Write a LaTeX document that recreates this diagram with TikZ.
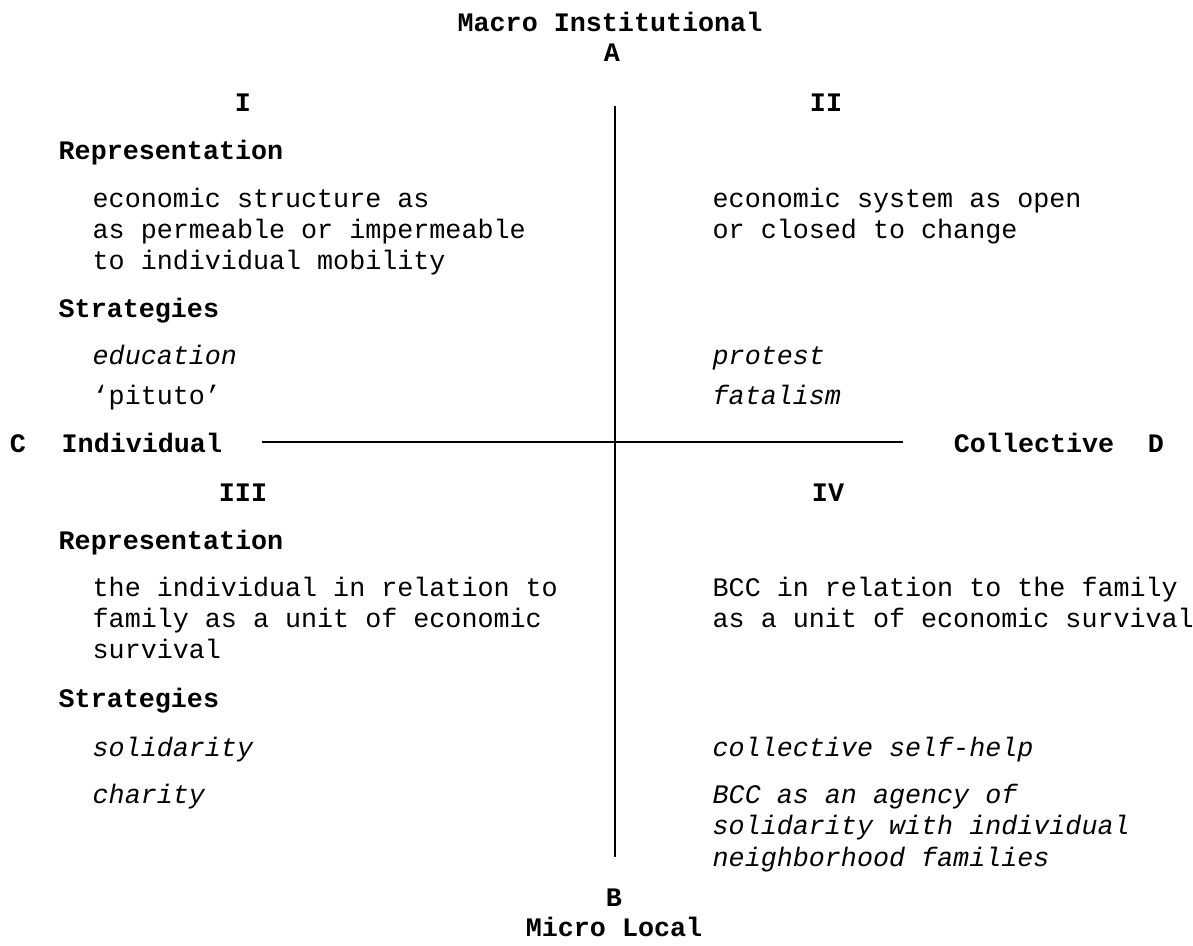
\documentclass[tikz,border=0pt]{standalone}
\usepackage{fontspec}
\setmainfont{Liberation Mono}
\begin{document}
\begin{tikzpicture}[x=0.01cm,y=-0.01cm,
  every node/.style={inner sep=0pt,font=\fontsize{7.6pt}{9pt}\selectfont},
  lab/.style={font=\fontsize{7.6pt}{9pt}\selectfont\bfseries},
  body/.style={anchor=mid west},
  ital/.style={anchor=mid west,font=\fontsize{7.6pt}{9pt}\selectfont\itshape},
  head/.style={anchor=mid west,font=\fontsize{7.6pt}{9pt}\selectfont\bfseries},
  axis/.style={line width=0.6pt}]
\useasboundingbox (0,0) rectangle (1193,946);

% axis ends
\node[lab] (macro) at (610,22) {Macro Institutional};
\node[lab] (A) at (612,53) {A};
\node[lab] (B) at (614,898) {B};
\node[lab] (micro) at (614,927) {Micro Local};
\node[lab,anchor=mid] (C) at (18,443) {C};
\node[lab,anchor=mid west] (indiv) at (61,443) {Individual};
\node[lab,anchor=mid east] (coll) at (1115,443) {Collective};
\node[lab,anchor=mid] (D) at (1156,443) {D};

% axes
\coordinate (vtop) at (615,106);
\coordinate (vbot) at (615,857);
\coordinate (hl) at (262,442);
\coordinate (hr) at (903,442);
\draw[axis] (vtop) -- (vbot);
\draw[axis] (hl) -- (hr);

% quadrant numbers
\node[lab] (q1) at (243,103) {I};
\node[lab] (q2) at (826,103) {II};
\node[lab] (q3) at (243,493) {III};
\node[lab] (q4) at (828,493) {IV};

% quadrant I
\node[head] (rep1) at (58,150) {Representation};
\node[body] (r1a) at (92,198) {economic structure as};
\node[body] (r1b) at (92,229) {as permeable or impermeable};
\node[body] (r1c) at (92,260) {to individual mobility};
\node[head] (str1) at (58,308) {Strategies};
\node[ital] (s1a) at (92,355) {education};
\node[body] (s1b) at (92,395) {`pituto'};

% quadrant II
\node[body] (r2a) at (712,198) {economic system as open};
\node[body] (r2b) at (712,229) {or closed to change};
\node[ital] (s2a) at (712,355) {protest};
\node[ital] (s2b) at (712,395) {fatalism};

% quadrant III
\node[head] (rep3) at (58,540) {Representation};
\node[body] (r3a) at (92,587) {the individual in relation to};
\node[body] (r3b) at (92,618) {family as a unit of economic};
\node[body] (r3c) at (92,649) {survival};
\node[head] (str3) at (58,698) {Strategies};
\node[ital] (s3a) at (92,747) {solidarity};
\node[ital] (s3b) at (92,794) {charity};

% quadrant IV
\node[body] (r4a) at (712,587) {BCC in relation to the family};
\node[body] (r4b) at (712,618) {as a unit of economic survival};
\node[ital] (s4a) at (712,747) {collective self-help};
\node[ital] (s4b) at (712,794) {BCC as an agency of};
\node[ital] (s4c) at (712,825) {solidarity with individual};
\node[ital] (s4d) at (712,857) {neighborhood families};
\end{tikzpicture}
\end{document}
